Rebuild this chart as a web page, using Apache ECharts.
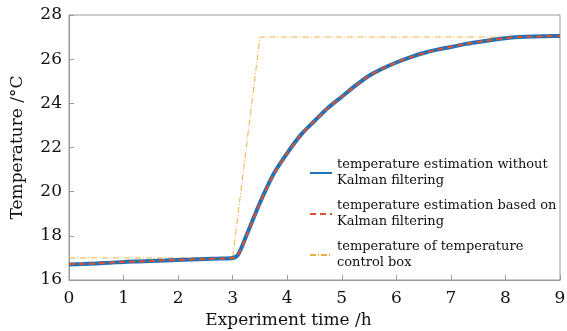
<!DOCTYPE html>
<html><head><meta charset="utf-8">
<script src="https://cdn.jsdelivr.net/npm/echarts@6/dist/echarts.min.js"></script>
<style>html,body{margin:0;padding:0;background:#fff}#c{width:567px;height:331px}</style>
</head><body><div id="c"></div>
<script>
var timeH = [0,0.25,0.5,0.75,1,1.25,1.5,1.75,2,2.25,2.5,2.75,3,3.1,3.25,3.5,3.75,4,4.25,4.5,4.75,5,5.25,5.5,5.75,6,6.25,6.5,6.75,7,7.25,7.5,7.75,8,8.25,8.5,8.75,9];
var tempNoKalman = [16.70,16.72,16.75,16.78,16.82,16.84,16.86,16.88,16.91,16.93,16.95,16.97,17.00,17.15,18.00,19.50,20.80,21.75,22.57,23.20,23.80,24.30,24.80,25.25,25.58,25.85,26.08,26.28,26.43,26.55,26.68,26.78,26.87,26.95,27.00,27.03,27.04,27.05];
var tempKalman   = [16.72,16.73,16.75,16.79,16.82,16.84,16.86,16.89,16.91,16.93,16.95,16.97,17.00,17.14,17.98,19.48,20.78,21.74,22.56,23.20,23.79,24.30,24.79,25.24,25.58,25.85,26.08,26.27,26.43,26.56,26.68,26.78,26.87,26.95,27.00,27.02,27.04,27.05];
var boxTime = [0,3,3.5,9];
var boxTemp = [17,17,27,27];
var xTicks = [0,1,2,3,4,5,6,7,8,9];
var yTicks = [16,18,20,22,24,26,28];
var seriesNames = ['temperature estimation without\nKalman filtering','temperature estimation based on\nKalman filtering','temperature of temperature\ncontrol box'];

function pairs(xs, ys){ return xs.map(function(x,i){return [x, ys[i]];}); }
var font = 'DejaVu Serif';
var chart = echarts.init(document.getElementById('c'));
chart.setOption({
  animation:false,
  grid:{left:69,right:7,top:15,bottom:51,outerBoundsMode:'none',containLabel:false,show:true,borderColor:'#999',borderWidth:1,backgroundColor:'transparent'},
  legend:{
    orient:'vertical', left:304, top:144, itemWidth:22, itemHeight:10, itemGap:-7,
    data:seriesNames,
    itemStyle:{color:'rgba(0,0,0,0)',borderWidth:0,opacity:0},
    lineStyle:{width:2},
    textStyle:{fontFamily:font,fontSize:13,color:'#111',lineHeight:16,padding:[16,0,0,0]}
  },
  xAxis:{
    type:'value', min:0, max:9, interval:1,
    name:'Experiment time /h', nameLocation:'middle', nameGap:30,
    nameTextStyle:{fontFamily:font,fontSize:17,color:'#111',padding:[0,52,0,0]},
    axisLine:{show:true,lineStyle:{color:'#999'}},
    axisTick:{show:true,inside:true,length:5,lineStyle:{color:'#999'}},
    axisLabel:{fontFamily:font,fontSize:17,color:'#111',margin:10,formatter:function(v){return xTicks.indexOf(v)>=0?String(v):'';}},
    splitLine:{show:false}
  },
  yAxis:{
    type:'value', min:16, max:28, interval:2,
    name:'Temperature /°C', nameLocation:'middle', nameGap:43,
    nameTextStyle:{fontFamily:font,fontSize:17,color:'#111'},
    axisLine:{show:true,lineStyle:{color:'#999'}},
    axisTick:{show:true,inside:true,length:5,lineStyle:{color:'#999'}},
    axisLabel:{fontFamily:font,fontSize:17,color:'#111',margin:7,formatter:function(v){return yTicks.indexOf(v)>=0?String(v):'';}},
    splitLine:{show:false}
  },
  series:[
    {name:seriesNames[0],type:'line',data:pairs(timeH,tempNoKalman),symbol:'none',smooth:0.3,
     lineStyle:{color:'#1f72b8',width:4},itemStyle:{color:'#1f72b8'},z:2},
    {name:seriesNames[1],type:'line',data:pairs(timeH,tempKalman),symbol:'none',smooth:0.3,
     lineStyle:{color:'#e0502a',width:2,type:[6,4]},itemStyle:{color:'#e0502a'},z:3},
    {name:seriesNames[2],type:'line',data:pairs(boxTime,boxTemp),symbol:'none',
     lineStyle:{color:'#f0b040',width:1,type:[6,2,1,2]},itemStyle:{color:'#f0b040'},z:1}
  ]
});
</script></body></html>
